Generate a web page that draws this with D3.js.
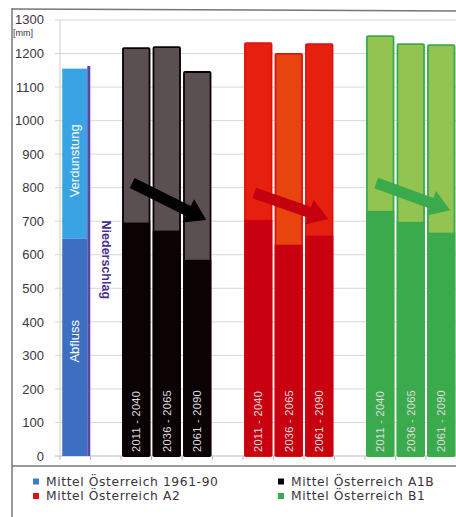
<!DOCTYPE html>
<html>
<head>
<meta charset="utf-8">
<script src="https://cdn.jsdelivr.net/npm/d3@7"></script>
<style>
  html, body { margin: 0; padding: 0; background: #fff; }
  svg { display: block; font-family: "Liberation Sans", Arial, sans-serif; }
</style>
</head>
<body>
<svg id="chart" width="456" height="517"></svg>
<script>
// ---- data ----
const periods = ["2011 - 2040", "2036 - 2065", "2061 - 2090"];
const baseAbfluss = 648;
const baseTotal = 1155;
const baseNiederschlag = 1163;
const a1bAbfluss = [696, 672, 585];
const a1bTotal = [1216, 1219, 1145];
const a2Abfluss = [704, 630, 657];
const a2Total = [1231, 1199, 1228];
const b1Abfluss = [731, 698, 666];
const b1Total = [1252, 1228, 1225];
const yTicks = [0, 100, 200, 300, 400, 500, 600, 700, 800, 900, 1000, 1100, 1200, 1300];
const legendLabels = ["Mittel Österreich 1961-90", "Mittel Österreich A1B", "Mittel Österreich A2", "Mittel Österreich B1"];
// arrow start/end values (trend annotations)
const arrowFrom = [814, 784, 814];
const arrowTo = [704, 707, 733];

const scenarios = [
  { name: "A1B", slot: 2, abfluss: a1bAbfluss, total: a1bTotal, low: "#0b0303", up: ["#5a5051", "#5a5051", "#5a5051"], stroke: "#0b0303", arrow: "#000000" },
  { name: "A2", slot: 6, abfluss: a2Abfluss, total: a2Total, low: "#c9000f", up: ["#e6200f", "#e8440f", "#e6200f"], stroke: "#e0120c", arrow: "#c4000e" },
  { name: "B1", slot: 10, abfluss: b1Abfluss, total: b1Total, low: "#3aaa4c", up: ["#93c452", "#93c452", "#93c452"], stroke: "#3aaa4c", arrow: "#3aaa4c" }
];

const svg = d3.select("#chart");
const y0 = 456, yTop = 20;
const y = d3.scaleLinear().domain([0, 1300]).range([y0, yTop]);
const x = d3.scaleBand().domain(d3.range(14)).range([60, 487]).paddingInner(0.08).paddingOuter(0.04);
const step = x.step();

// frame
svg.append("line").attr("x1", 12).attr("x2", 456).attr("y1", 9).attr("y2", 11).attr("stroke", "#777").attr("stroke-width", 1.5);
svg.append("line").attr("x1", 12).attr("x2", 12).attr("y1", 8).attr("y2", 517).attr("stroke", "#777").attr("stroke-width", 1.5);
svg.append("line").attr("x1", 12).attr("x2", 456).attr("y1", 466).attr("y2", 466).attr("stroke", "#777").attr("stroke-width", 1.5);

// gridlines
svg.append("g").selectAll("line").data(yTicks).join("line")
  .attr("x1", 55).attr("x2", 456)
  .attr("y1", d => y(d)).attr("y2", d => y(d))
  .attr("stroke", d => d === 0 ? "#bbb" : "#d8d8d8").attr("stroke-width", 1);
// y axis line
svg.append("line").attr("x1", 60).attr("x2", 60).attr("y1", y(1300)).attr("y2", y0).attr("stroke", "#ccc");
// x ticks at category boundaries
svg.append("g").selectAll("line").data(d3.range(14)).join("line")
  .attr("x1", i => 60 + i * step).attr("x2", i => 60 + i * step)
  .attr("y1", y0).attr("y2", y0 + 4).attr("stroke", "#bbb");

// y tick labels
svg.append("g").selectAll("text").data(yTicks).join("text")
  .attr("x", 44).attr("y", d => y(d) - (d === 1300 ? 1 : 0)).attr("dy", "0.36em")
  .attr("text-anchor", "end").attr("font-size", 13).attr("fill", "#3b3340")
  .text(d => d);
svg.append("text").attr("x", 13).attr("y", 36).attr("font-size", 9).attr("fill", "#3b3340").text("[mm]");

// baseline bar
const bw = x.bandwidth();
const bx = x(0);
svg.append("rect").attr("x", bx + 1).attr("y", y(baseTotal)).attr("width", bw - 3).attr("height", y(baseAbfluss) - y(baseTotal)).attr("fill", "#3aa3e3");
svg.append("rect").attr("x", bx + 1).attr("y", y(baseAbfluss)).attr("width", bw - 3).attr("height", y0 - y(baseAbfluss)).attr("fill", "#3c6fc2");
svg.append("rect").attr("x", bx + bw - 2).attr("y", y(baseNiederschlag)).attr("width", 3).attr("height", y0 - y(baseNiederschlag)).attr("fill", "#5a48a6");

svg.append("text").attr("transform", `translate(${bx + bw / 2 + 4},${y(880)}) rotate(-90)`)
  .attr("text-anchor", "middle").attr("font-size", 13).attr("fill", "#fff").text("Verdunstung");
svg.append("text").attr("transform", `translate(${bx + bw / 2 + 4},${y(342)}) rotate(-90)`)
  .attr("text-anchor", "middle").attr("font-size", 13).attr("fill", "#fff").text("Abfluss");
svg.append("text").attr("transform", `translate(${x(1) + 10},${y(585)}) rotate(90)`)
  .attr("text-anchor", "middle").attr("font-size", 12.5).attr("font-weight", "bold").attr("fill", "#4b2f8f").text("Niederschlag");

// scenario bars
scenarios.forEach(s => {
  periods.forEach((p, i) => {
    const xi = x(s.slot + i);
    const g = svg.append("g");
    g.append("rect").attr("x", xi + 0.75).attr("y", y(s.total[i])).attr("width", bw - 1.5)
      .attr("height", y0 - y(s.total[i])).attr("fill", s.up[i]).attr("stroke", s.stroke).attr("stroke-width", 1.8).attr("rx", 1);
    g.append("rect").attr("x", xi).attr("y", y(s.abfluss[i])).attr("width", bw)
      .attr("height", y0 - y(s.abfluss[i])).attr("fill", s.low);
    g.append("text").attr("transform", `translate(${xi + bw / 2},${y0 - 4}) rotate(-90)`)
      .attr("dy", "0.35em").attr("font-size", 11).attr("fill", "#ddd").attr("letter-spacing", 0.3).text(p);
  });
});

// trend arrows
function arrow(x1, y1, x2, y2, color) {
  const dx = x2 - x1, dy = y2 - y1, len = Math.hypot(dx, dy);
  const ang = Math.atan2(dy, dx) * 180 / Math.PI;
  const hl = 20, sw = 5.5, hw = 13;
  const pts = [[0, -sw], [len - hl, -sw], [len - hl, -hw], [len, 0], [len - hl, hw], [len - hl, sw], [0, sw]];
  svg.append("path").attr("d", "M" + pts.map(p => p.join(",")).join("L") + "Z")
    .attr("transform", `translate(${x1},${y1}) rotate(${ang})`).attr("fill", color);
}
scenarios.forEach((s, k) => {
  arrow(x(s.slot) + 10, y(arrowFrom[k]), x(s.slot + 2) + bw - 5, y(arrowTo[k]), s.arrow);
});

// legend
const legColors = ["#3c78d0", "#000", "#e01010", "#3aaa4c"];
const legPos = [[33, 481.5], [278, 481.5], [33, 496], [278, 496]];
legendLabels.forEach((t, i) => {
  const [lx, ly] = legPos[i];
  svg.append("rect").attr("x", lx).attr("y", ly - 3).attr("width", 6).attr("height", 6).attr("fill", legColors[i]);
  svg.append("text").attr("x", lx + 13).attr("y", ly).attr("dy", "0.36em")
    .attr("font-family", "'DejaVu Sans', sans-serif").attr("font-size", 12.3).attr("letter-spacing", 0.6)
    .attr("fill", "#3b3340").text(t);
});
</script>
</body>
</html>
